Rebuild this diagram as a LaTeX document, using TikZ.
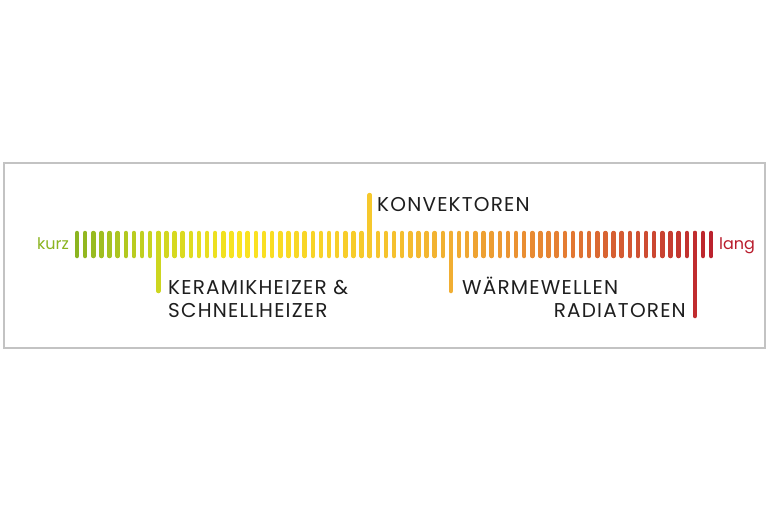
\documentclass[tikz,border=0pt]{standalone}
\usepackage{fontspec}
\setmainfont{Poppins}
\definecolor{tickA}{RGB}{139,180,32}
\definecolor{tickB}{RGB}{205,214,32}
\definecolor{tickC}{RGB}{250,228,32}
\definecolor{tickD}{RGB}{246,200,44}
\definecolor{tickE}{RGB}{241,174,50}
\definecolor{tickF}{RGB}{228,124,50}
\definecolor{tickG}{RGB}{205,76,50}
\definecolor{tickH}{RGB}{185,28,44}
\definecolor{framegray}{RGB}{195,195,195}
\definecolor{labelblack}{RGB}{30,30,30}
\begin{document}
\begin{tikzpicture}[x=1pt,y=-1pt,
  tick/.style={line width=4.5pt,line cap=round},
  lbl/.style={inner sep=0pt,text=labelblack,font=\fontsize{20}{23}\selectfont\addfontfeature{LetterSpace=6}},
  endlbl/.style={inner sep=0pt,font=\fontsize{16}{18}\selectfont}]
\useasboundingbox (0,0) rectangle (768,512);
\draw[framegray,line width=1.5pt] (4,163) rectangle (765,348);
% short ticks, colour mixed between stops
\foreach \a/\b/\ca/\cb in {0/10/tickA/tickB,10/20/tickB/tickC,20/36/tickC/tickD,36/46/tickD/tickE,46/60/tickE/tickF,60/70/tickF/tickG,70/79/tickG/tickH}{
  \pgfmathtruncatemacro\e{\b-1}
  \foreach \i in {\a,...,\e}{
    \pgfmathtruncatemacro\p{100*(\i-\a)/(\b-\a)}
    \draw[tick,\cb!\p!\ca] (77+\i*8.13,233) -- (77+\i*8.13,256);
  }
}
% long ticks
\coordinate (keramik) at (77+10*8.13,233);
\coordinate (konvektor) at (77+36*8.13,195);
\coordinate (welle) at (77+46*8.13,233);
\coordinate (radiator) at (77+76*8.13,233);
\draw[tick,tickB] (keramik) -- ++(0,58);
\draw[tick,tickD] (konvektor) -- ++(0,61);
\draw[tick,tickE] (welle) -- ++(0,58);
\draw[tick,tickH!66!tickG] (radiator) -- ++(0,83);
% labels
\node[endlbl,text=tickA,anchor=base east] (kurz) at (69,249) {kurz};
\node[endlbl,text=tickH,anchor=base west] (lang) at (719,249) {lang};
\node[lbl,anchor=base west] (konv) at (377,211) {KONVEKTOREN};
\node[lbl,anchor=base west,align=left] (kera) at (168,317) {KERAMIKHEIZER \&\\SCHNELLHEIZER};
\node[lbl,anchor=base west] (waerm) at (462,294) {WÄRMEWELLEN};
\node[lbl,anchor=base east] (radi) at (686,317) {RADIATOREN};
\end{tikzpicture}
\end{document}
